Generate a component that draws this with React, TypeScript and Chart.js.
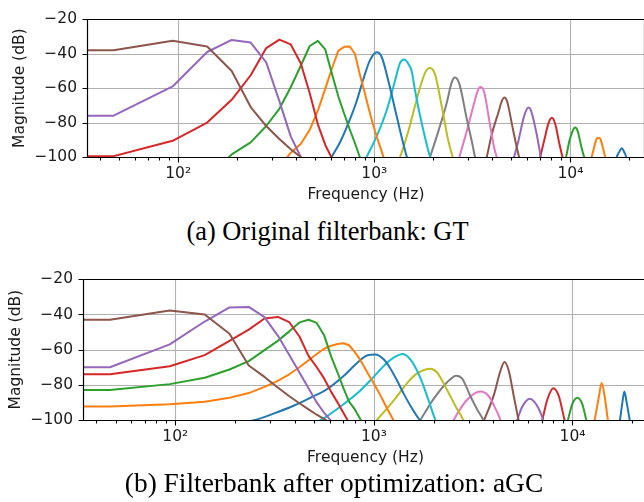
import React, { useEffect, useRef } from 'react';
import { Chart, registerables } from 'chart.js';

Chart.register(...registerables);

// ---------- axes ----------
const X_MIN = 34.3;
const X_MAX = 24000;
const Y_MIN = -100;
const Y_MAX = -20;
const Y_TICKS = [-100, -80, -60, -40, -20];
const MAJOR_TICKS = [100, 1000, 10000];
const MAJOR_LABELS = ['10²', '10³', '10⁴'];
const MINOR_TICKS = [40, 50, 60, 70, 80, 90, 200, 300, 400, 500, 600, 700, 800, 900,
  2000, 3000, 4000, 5000, 6000, 7000, 8000, 9000, 20000];

// FFT bin frequencies (first entry is the left-edge continuation of bin 1)
const BINS = [30, 46.875, 93.75, 140.625, 187.5, 234.375, 281.25, 328.125, 375, 421.875,
  468.75, 515.625, 562.5, 609.375, 656.25, 703.125, 750, 796.875, 843.75, 890.625,
  937.5, 984.375, 1031.25, 1078.125, 1125, 1171.875, 1218.75, 1265.625, 1312.5];

const COLORS = ['#8c564b', '#9467bd', '#d62728', '#2ca02c', '#ff7f0e', '#1f77b4', '#17becf',
  '#bcbd22', '#7f7f7f', '#e377c2', '#8c564b', '#9467bd', '#d62728', '#2ca02c', '#ff7f0e', '#1f77b4'];

// ---------- (a) GT ----------
const GT1_DB = [-38, -38, -32.5, -35.8, -50, -71, -82, -89.5, -95.5, -100, -104];
const GT2_DB = [-76, -76, -59, -39, -32, -33.5, -45, -67.5, -88, -100, -106];
const GT3_DB = [-99.5, -99.5, -90.6, -80, -66.8, -52.5, -36.7, -31.8, -34.6, -45.5, -63, -81, -93, -101, -108];
const GT4_START = 3;
const GT4_DB = [-112, -98.5, -91.5, -82, -72, -59.5, -47, -35.5, -32.5, -37.5, -52, -65, -75, -84, -92, -100, -107];
const GT5_START = 7;
const GT5_DB = [-106, -97.5, -92.5, -84.2, -73.1, -60.3, -48.3, -38.2, -36, -35.8, -40, -52, -62, -72, -81, -88.5, -95, -101.5, -108];

const GT6_HZ = [580, 606, 668, 737, 813, 879, 951, 1031, 1091, 1179, 1276, 1381, 1464, 1510];
const GT6_DB = [-104, -100, -91.6, -80.5, -67.6, -54.8, -43.7, -39.1, -41.9, -55.7, -72.2, -88.8, -99.8, -104];
const GT7_HZ = [880, 914, 1028, 1156, 1276, 1352, 1422, 1503, 1552, 1613, 1711, 1924, 1980];
const GT7_DB = [-104, -100, -88, -73, -55.7, -45.5, -43.4, -46.5, -50.2, -61.2, -75.9, -100, -104];
const GT8_HZ = [1300, 1352, 1491, 1645, 1814, 1924, 2040, 2206, 2385, 2511, 2580];
const GT8_DB = [-104, -100, -85, -66.7, -51.1, -48.3, -52, -70.4, -90.6, -100, -104];
const GT9_HZ = [1870, 1924, 2121, 2340, 2481, 2580, 2715, 2960, 3138, 3263, 3340];
const GT9_DB = [-104, -100, -85.1, -68.6, -56.6, -53.8, -57.5, -77.7, -90.6, -100, -104];
const GT10_HZ = [2650, 2715, 2960, 3200, 3354, 3475, 3628, 3892, 4080, 4210, 4300];
const GT10_DB = [-104, -100, -85.1, -70.4, -62.1, -59.4, -62.1, -81.4, -94.3, -100, -104];
const GT11_HZ = [3650, 3743, 3970, 4293, 4482, 4606, 4753, 5080, 5325, 5473, 5580];
const GT11_DB = [-104, -100, -86.9, -74.1, -67.1, -65.4, -67.6, -83.3, -94.3, -100, -104];
const GT12_HZ = [5050, 5160, 5431, 5759, 5965, 6107, 6277, 6683, 6921, 7058, 7200];
const GT12_DB = [-104, -100, -90.6, -77.7, -72.6, -71.3, -72.6, -85.1, -94.3, -100, -104];
const GT13_HZ = [6850, 7006, 7343, 7725, 8035, 8353, 8791, 9108, 9300];
const GT13_DB = [-104, -100, -90.6, -80.5, -77.2, -80.5, -92.5, -100, -104];
const GT14_HZ = [9300, 9504, 9884, 10243, 10566, 10900, 11381, 11744, 12000];
const GT14_DB = [-104, -100, -90.6, -85.1, -82.9, -85.1, -94.3, -100, -104];
const GT15_HZ = [12600, 12848, 13207, 13577, 13900, 14232, 14683, 15032, 15300];
const GT15_DB = [-104, -100, -94.3, -89.7, -88.8, -89.7, -95.2, -100, -104];
const GT16_HZ = [17000, 17240, 17720, 18280, 18790, 19230, 19500];
const GT16_DB = [-104, -100, -97.1, -94.9, -97.1, -100, -104];

// ---------- (b) aGC ----------
const AGC1_DB = [-43, -43, -37.7, -40, -51, -69, -75.5, -81.5, -86.5, -90.5, -94, -97, -99.5, -102];
const AGC2_DB = [-70, -70, -57, -44, -36, -35.7, -41.5, -52, -63, -73, -82, -90, -96, -100.5, -105];
const AGC3_DB = [-74, -74, -69.4, -63.1, -55, -48.6, -42.3, -41.4, -44.4, -52.5, -63.5, -70, -76.5, -84, -90, -96, -101.5, -106];
const AGC4_DB = [-83, -83, -79.6, -76, -71.3, -66.5, -60.3, -55, -49.6, -44.5, -43, -44.8, -52, -64, -73, -82, -89.5, -93.5, -98.5, -103];
const AGC5_DB = [-92.3, -92.3, -91, -89.6, -87.4, -84.7, -81.2, -77.8, -74, -70, -66, -62.5, -59.5, -57.8, -56.8,
  -56.4, -57.5, -61, -65, -69.5, -74, -78, -82, -86, -90, -94, -97.5, -101, -105];

const AGC6_HZ = [230, 252, 312, 394, 478, 580, 704, 822, 923, 1016, 1119, 1200, 1300, 1412, 1530, 1700, 1760];
const AGC6_DB = [-101, -100, -96.4, -91.9, -87.4, -82.5, -75, -67.6, -63.3, -62.8, -65.5, -70, -77, -85, -92, -100, -102];
const AGC7_HZ = [530, 569, 677, 822, 997, 1164, 1282, 1386, 1526, 1714, 1887, 2040, 2100];
const AGC7_DB = [-100.5, -98.5, -92.5, -85, -75.5, -67.5, -64, -62.5, -65.5, -76, -89, -100, -103];
const AGC8_HZ = [1000, 1036, 1257, 1359, 1496, 1650, 1925, 2081, 2337, 2573, 2834, 2900];
const AGC8_DB = [-102, -100, -89, -84, -78, -73.5, -70.8, -73, -83, -92, -100.5, -103];
const AGC9_HZ = [1650, 1714, 2000, 2337, 2604, 2782, 3063, 3311, 3575, 3650];
const AGC9_DB = [-103, -100, -88, -78.5, -74.8, -76.5, -86.5, -94, -100.5, -103];
const AGC10_HZ = [2450, 2523, 2948, 3441, 3788, 4095, 4339, 4420];
const AGC10_DB = [-103, -100, -88.5, -83.8, -86.5, -93.5, -100, -103];
const AGC11_HZ = [3500, 3575, 4014, 4339, 4546, 4778, 5064, 5366, 5450];
const AGC11_DB = [-103, -100.5, -86, -72, -67, -72, -86.5, -100.5, -103];
const AGC12_HZ = [5150, 5268, 5583, 6098, 6645, 7126, 7250];
const AGC12_DB = [-103, -100, -92.5, -87.9, -92, -100, -103];
const AGC13_HZ = [6900, 7043, 7464, 8002, 8540, 9124, 9300];
const AGC13_DB = [-103, -100, -88.5, -82, -86.5, -100, -103];
const AGC14_HZ = [9300, 9480, 9977, 10573, 11205, 11739, 11950];
const AGC14_DB = [-103, -100, -91, -87.4, -91, -100, -103];
const AGC15_HZ = [12700, 12925, 13590, 14025, 14520, 15086, 15300];
const AGC15_DB = [-103, -100, -86.5, -78.9, -86.5, -100, -103];
const AGC16_HZ = [17100, 17339, 17830, 18250, 18745, 19409, 19600];
const AGC16_DB = [-103, -100, -90.1, -83.8, -90.1, -100, -103];

type Curve = { hz: number[]; db: number[]; smooth: boolean };

const binCurve = (start: number, db: number[]): Curve => ({ hz: BINS.slice(start, start + db.length), db, smooth: false });
const sparse = (hz: number[], db: number[]): Curve => ({ hz, db, smooth: true });

const GT_CURVES: Curve[] = [
  binCurve(0, GT1_DB), binCurve(0, GT2_DB), binCurve(0, GT3_DB), binCurve(GT4_START, GT4_DB), binCurve(GT5_START, GT5_DB),
  sparse(GT6_HZ, GT6_DB), sparse(GT7_HZ, GT7_DB), sparse(GT8_HZ, GT8_DB), sparse(GT9_HZ, GT9_DB),
  sparse(GT10_HZ, GT10_DB), sparse(GT11_HZ, GT11_DB), sparse(GT12_HZ, GT12_DB), sparse(GT13_HZ, GT13_DB),
  sparse(GT14_HZ, GT14_DB), sparse(GT15_HZ, GT15_DB), sparse(GT16_HZ, GT16_DB),
];

const AGC_CURVES: Curve[] = [
  binCurve(0, AGC1_DB), binCurve(0, AGC2_DB), binCurve(0, AGC3_DB), binCurve(0, AGC4_DB), binCurve(0, AGC5_DB),
  sparse(AGC6_HZ, AGC6_DB), sparse(AGC7_HZ, AGC7_DB), sparse(AGC8_HZ, AGC8_DB), sparse(AGC9_HZ, AGC9_DB),
  sparse(AGC10_HZ, AGC10_DB), sparse(AGC11_HZ, AGC11_DB), sparse(AGC12_HZ, AGC12_DB), sparse(AGC13_HZ, AGC13_DB),
  sparse(AGC14_HZ, AGC14_DB), sparse(AGC15_HZ, AGC15_DB), sparse(AGC16_HZ, AGC16_DB),
];

const FONT_FAMILY = "'DejaVu Sans', sans-serif";
const TEXT = '#1a1a1a';
const FONT_SIZE = 15.5;

const decor = {
  id: 'decor',
  beforeDatasetsDraw(chart: any) {
    const { ctx, chartArea } = chart;
    const { left, right, top, bottom } = chartArea;
    const xs = chart.scales.x;
    const ys = chart.scales.y;
    ctx.save();
    ctx.strokeStyle = '#b0b0b0';
    ctx.lineWidth = 1.1;
    ctx.beginPath();
    for (const v of MAJOR_TICKS) {
      const px = Math.round(xs.getPixelForValue(v)) + 0.5;
      ctx.moveTo(px, top);
      ctx.lineTo(px, bottom);
    }
    for (const v of Y_TICKS) {
      const py = Math.round(ys.getPixelForValue(v)) + 0.5;
      ctx.moveTo(left, py);
      ctx.lineTo(right, py);
    }
    ctx.stroke();
    ctx.restore();
  },
  afterDatasetsDraw(chart: any) {
    const { ctx, chartArea } = chart;
    const { left, right, top, bottom } = chartArea;
    const xs = chart.scales.x;
    const ys = chart.scales.y;
    const L = Math.round(left) + 0.5;
    const R = Math.round(right) - 0.5;
    const T = Math.round(top) + 0.5;
    const B = Math.round(bottom) + 0.5;
    ctx.save();
    ctx.strokeStyle = '#000';
    ctx.lineWidth = 1.1;
    ctx.beginPath();
    for (const v of MAJOR_TICKS.concat(MINOR_TICKS)) {
      if (v < X_MIN || v > X_MAX) continue;
      const px = Math.round(xs.getPixelForValue(v)) + 0.5;
      const len = MAJOR_TICKS.includes(v) ? 5 : 3;
      ctx.moveTo(px, B);
      ctx.lineTo(px, B + len);
    }
    for (const v of Y_TICKS) {
      const py = Math.round(ys.getPixelForValue(v)) + 0.5;
      ctx.moveTo(L - 5, py);
      ctx.lineTo(L, py);
    }
    ctx.stroke();
    ctx.lineWidth = 1.2;
    ctx.beginPath();
    ctx.moveTo(L, T); ctx.lineTo(R, T);
    ctx.moveTo(L, B); ctx.lineTo(R, B);
    ctx.moveTo(L, T); ctx.lineTo(L, B);
    ctx.moveTo(R, T); ctx.lineTo(R, B);
    ctx.stroke();
    ctx.restore();
  },
};

type PanelProps = {
  curves: Curve[];
  top: number;
  width: number;
  height: number;
  yAxisWidth: number;
  padTop: number;
  xAxisHeight: number;
  yTitlePad: number;
  xTitlePad: number;
};

function Panel(p: PanelProps) {
  const ref = useRef<HTMLCanvasElement>(null);
  useEffect(() => {
    const font = { family: FONT_FAMILY, size: FONT_SIZE, lineHeight: 1.2 };
    const chart = new Chart(ref.current as HTMLCanvasElement, {
      type: 'line',
      data: {
        datasets: p.curves.map((c, i) => ({
          data: c.hz.map((h, j) => ({ x: h, y: c.db[j] })),
          borderColor: COLORS[i],
          backgroundColor: COLORS[i],
          borderWidth: 2,
          pointRadius: 0,
          fill: false,
          borderJoinStyle: 'round',
          tension: c.smooth ? 0.4 : 0,
          cubicInterpolationMode: c.smooth ? 'monotone' : 'default',
        })),
      },
      options: {
        animation: false,
        responsive: false,
        devicePixelRatio: 1,
        events: [],
        layout: { padding: { top: p.padTop, left: 0, right: 0, bottom: 0 } },
        plugins: { legend: { display: false }, tooltip: { enabled: false } },
        scales: {
          x: {
            type: 'logarithmic',
            min: X_MIN,
            max: X_MAX,
            grid: { display: false, drawTicks: false },
            border: { display: false },
            afterBuildTicks: (s: any) => { s.ticks = MAJOR_TICKS.map((v) => ({ value: v })); },
            afterFit: (s: any) => { s.height = p.xAxisHeight; },
            ticks: {
              autoSkip: false,
              maxRotation: 0,
              minRotation: 0,
              padding: 8,
              color: TEXT,
              font,
              callback: (v: any) => {
                const i = MAJOR_TICKS.indexOf(Number(v));
                return i >= 0 ? MAJOR_LABELS[i] : '';
              },
            },
            title: {
              display: true,
              text: 'Frequency (Hz)',
              color: TEXT,
              font,
              padding: { top: 0, bottom: p.xTitlePad },
            },
          },
          y: {
            type: 'linear',
            min: Y_MIN,
            max: Y_MAX,
            grid: { display: false, drawTicks: false },
            border: { display: false },
            afterBuildTicks: (s: any) => { s.ticks = Y_TICKS.map((v) => ({ value: v })); },
            afterFit: (s: any) => { s.width = p.yAxisWidth; },
            ticks: {
              padding: 10,
              color: TEXT,
              font,
              callback: (v: any) => (Number(v) < 0 ? '\u2212' + Math.abs(Number(v)) : String(v)),
            },
            title: {
              display: true,
              text: 'Magnitude (dB)',
              color: TEXT,
              font,
              padding: { top: p.yTitlePad, bottom: 0 },
            },
          },
        },
      } as any,
      plugins: [decor],
    });
    return () => chart.destroy();
  }, []);
  return (
    <canvas
      ref={ref}
      width={p.width}
      height={p.height}
      style={{ position: 'absolute', left: 0, top: p.top, width: p.width, height: p.height }}
    />
  );
}

const captionStyle: React.CSSProperties = {
  position: 'absolute',
  width: 600,
  textAlign: 'center',
  fontFamily: "'Liberation Serif', 'Times New Roman', serif",
  lineHeight: '30px',
  color: '#000',
  whiteSpace: 'nowrap',
};

export default function App() {
  return (
    <div style={{ position: 'absolute', left: 0, top: 0, width: 644, height: 502, overflow: 'hidden', background: '#fff' }}>
      <Panel curves={GT_CURVES} top={0} width={645} height={215} yAxisWidth={87} padTop={12}
        xAxisHeight={58} yTitlePad={10.7} xTitlePad={10.3} />
      <div style={{ ...captionStyle, fontSize: 26.4, left: 27.5, top: 216 }}>(a) Original filterbank: GT</div>
      <Panel curves={AGC_CURVES} top={260} width={648} height={215} yAxisWidth={83} padTop={12}
        xAxisHeight={55} yTitlePad={6.7} xTitlePad={7.3} />
      <div style={{ ...captionStyle, fontSize: 27.4, left: 34, top: 468 }}>(b) Filterbank after optimization: aGC</div>
    </div>
  );
}
